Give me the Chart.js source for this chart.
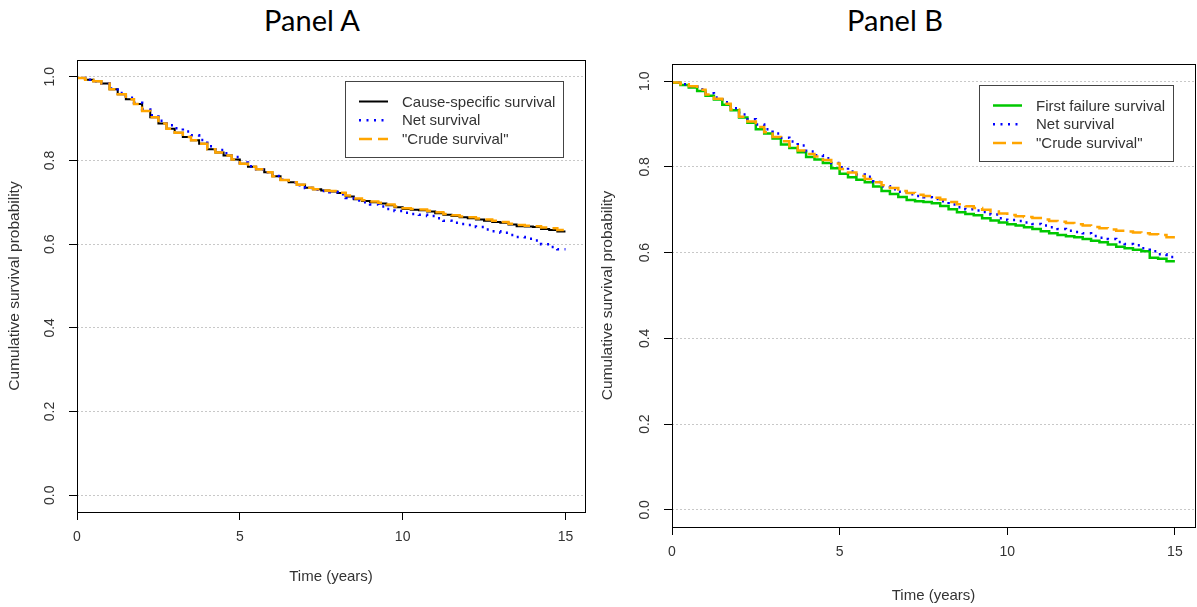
<!DOCTYPE html>
<html>
<head>
<meta charset="utf-8">
<script src="https://cdn.jsdelivr.net/npm/chart.js@4.4.0/dist/chart.umd.min.js"></script>
<style>
  body { margin: 0; background: #fff; width: 1197px; height: 607px; position: relative; overflow: hidden; }
  .panel-title { position: absolute; top: 0; width: 240px; text-align: center; font: 29px Lato, sans-serif; line-height: 40px; color: #000; }
  canvas { position: absolute; top: 0; }
</style>
</head>
<body>
<div class="panel-title" style="left:192px">Panel A</div>
<div class="panel-title" style="left:775px">Panel B</div>
<canvas id="panelA" width="598" height="607" style="left:0"></canvas>
<canvas id="panelB" width="599" height="607" style="left:598px"></canvas>
<script>
// time grid (years) shared by all curves
const timeYears = [0,0.25,0.5,0.75,1,1.25,1.5,1.75,2,2.25,2.5,2.75,3,3.25,3.5,3.75,4,4.25,4.5,4.75,
  5,5.25,5.5,5.75,6,6.25,6.5,6.75,7,7.25,7.5,7.75,8,8.25,8.5,8.75,9,9.25,9.5,9.75,
  10,10.25,10.5,10.75,11,11.25,11.5,11.75,12,12.25,12.5,12.75,13,13.25,13.5,13.75,14,14.25,14.5,14.75,15];

const xTicks = [0, 5, 10, 15];
const xTickLabels = ['0', '5', '10', '15'];
const yTicks = [0, 0.2, 0.4, 0.6, 0.8, 1.0];
const yTickLabels = ['0.0', '0.2', '0.4', '0.6', '0.8', '1.0'];

// Panel A
const labelsA = ['Cause-specific survival', 'Net survival', '"Crude survival"'];
const causeSpecificA = [1.000,0.997,0.993,0.989, 0.984,0.970,0.958,0.946, 0.935,0.918,0.903,0.888,
  0.876,0.866,0.856,0.848, 0.840,0.827,0.819,0.812, 0.802,0.792,0.785,0.779, 0.772,0.762,0.753,0.748,
  0.742,0.735,0.731,0.728, 0.726,0.722,0.714,0.707, 0.703,0.700,0.697,0.693, 0.688,0.684,0.682,0.681,
  0.678,0.674,0.670,0.667, 0.664,0.662,0.659,0.656, 0.653,0.651,0.647,0.643, 0.642,0.641,0.636,0.634, 0.630];
const netA = [1.000,0.997,0.993,0.989, 0.984,0.972,0.961,0.950, 0.938,0.922,0.908,0.895,
  0.884,0.877,0.869,0.860, 0.849,0.834,0.825,0.817, 0.808,0.795,0.786,0.779, 0.772,0.763,0.754,0.748,
  0.741,0.734,0.730,0.727, 0.724,0.719,0.710,0.704, 0.700,0.695,0.690,0.684, 0.679,0.675,0.672,0.670,
  0.667,0.662,0.656,0.651, 0.648,0.646,0.641,0.635, 0.631,0.627,0.622,0.617, 0.613,0.609,0.600,0.593, 0.588];
const crudeA = [1.000,0.997,0.993,0.989, 0.984,0.970,0.958,0.946, 0.935,0.918,0.903,0.888,
  0.876,0.866,0.856,0.848, 0.840,0.827,0.819,0.812, 0.802,0.792,0.785,0.779, 0.772,0.762,0.753,0.748,
  0.742,0.735,0.731,0.728, 0.727,0.723,0.716,0.709, 0.705,0.702,0.699,0.695, 0.690,0.686,0.684,0.683,
  0.680,0.676,0.672,0.669, 0.666,0.664,0.661,0.659, 0.656,0.653,0.649,0.646, 0.644,0.643,0.640,0.638, 0.634];

// Panel B
const labelsB = ['First failure survival', 'Net survival', '"Crude survival"'];
const firstFailureB = [1.000,0.996,0.991,0.985, 0.977,0.966,0.957,0.945, 0.932,0.915,0.903,0.888,
  0.878,0.866,0.852,0.844, 0.834,0.823,0.817,0.809, 0.797,0.784,0.776,0.770, 0.764,0.754,0.744,0.737,
  0.730,0.723,0.720,0.718, 0.715,0.709,0.701,0.694, 0.690,0.687,0.680,0.675, 0.670,0.666,0.663,0.659,
  0.655,0.650,0.645,0.641, 0.638,0.636,0.632,0.628, 0.624,0.619,0.614,0.610, 0.607,0.603,0.588,0.586, 0.580];
const netB = [1.000,0.997,0.993,0.988, 0.981,0.972,0.962,0.951, 0.937,0.922,0.911,0.899,
  0.888,0.878,0.868,0.859, 0.850,0.836,0.827,0.820, 0.809,0.799,0.789,0.782, 0.777,0.765,0.755,0.748,
  0.742,0.736,0.732,0.729, 0.725,0.720,0.712,0.706, 0.701,0.698,0.695,0.689, 0.680,0.676,0.674,0.670,
  0.667,0.663,0.659,0.655, 0.651,0.648,0.645,0.639, 0.635,0.632,0.625,0.620, 0.617,0.610,0.603,0.596, 0.590];
const crudeB = [1.000,0.997,0.993,0.988, 0.980,0.969,0.959,0.947, 0.934,0.917,0.906,0.893,
  0.881,0.870,0.860,0.848, 0.838,0.830,0.824,0.816, 0.808,0.795,0.787,0.779, 0.772,0.764,0.757,0.751,
  0.744,0.739,0.735,0.732, 0.728,0.724,0.718,0.713, 0.708,0.704,0.700,0.696, 0.691,0.688,0.685,0.683,
  0.681,0.677,0.674,0.672, 0.669,0.666,0.663,0.660, 0.657,0.654,0.651,0.649, 0.647,0.645,0.643,0.641, 0.636];

const FONT = 'Liberation Sans, Arial, sans-serif';

function points(values) {
  return timeYears.map((t, i) => ({ x: t, y: values[i] }));
}

function curve(label, values, color, width, dash, order) {
  return {
    label: label,
    data: points(values),
    borderColor: color,
    borderWidth: width,
    borderDash: dash,
    stepped: 'after',
    pointRadius: 0,
    fill: false,
    order: order
  };
}

// box, rotated y labels and an R-style legend in the top right corner
const rStyle = {
  id: 'rStyle',
  afterDraw(chart) {
    const ctx = chart.ctx;
    const a = chart.chartArea;
    ctx.save();
    ctx.strokeStyle = '#000';
    ctx.lineWidth = 1;
    ctx.strokeRect(Math.round(a.left) + 0.5, Math.round(a.top) + 0.5,
      Math.round(a.right - a.left), Math.round(a.bottom - a.top));

    // y tick labels, rotated like R's las=0
    const ys = chart.scales.y;
    ctx.fillStyle = '#333';
    ctx.font = '14px ' + FONT;
    ctx.textAlign = 'center';
    ctx.textBaseline = 'middle';
    ys.ticks.forEach(tick => {
      const idx = yTicks.indexOf(tick.value);
      const py = ys.getPixelForValue(tick.value);
      ctx.save();
      ctx.translate(a.left - 27, py);
      ctx.rotate(-Math.PI / 2);
      ctx.fillText(idx >= 0 ? yTickLabels[idx] : tick.label, 0, 0);
      ctx.restore();
    });

    // legend
    const sets = chart.data.datasets.slice().sort((p, q) => q.order - p.order);
    ctx.font = '15px ' + FONT;
    ctx.textAlign = 'left';
    const textW = Math.max(...sets.map(d => ctx.measureText(d.label).width));
    const boxW = 14 + 29 + 14 + textW + 8;
    const boxH = 76;
    const bx = Math.round(a.right - 22 - boxW);
    const by = Math.round(a.top + 21);
    ctx.fillStyle = '#fff';
    ctx.fillRect(bx, by, boxW, boxH);
    ctx.strokeStyle = '#444';
    ctx.lineWidth = 1;
    ctx.strokeRect(bx + 0.5, by + 0.5, Math.round(boxW), boxH);
    sets.forEach((d, i) => {
      const ry = by + 20.5 + i * 18.8;
      ctx.beginPath();
      ctx.strokeStyle = d.borderColor;
      ctx.lineWidth = d.borderWidth;
      ctx.setLineDash(d.borderDash);
      ctx.moveTo(bx + 14, ry);
      ctx.lineTo(bx + 43, ry);
      ctx.stroke();
      ctx.setLineDash([]);
      ctx.fillStyle = '#333';
      ctx.textBaseline = 'middle';
      ctx.fillText(d.label, bx + 57, ry + 1);
    });
    ctx.restore();
  }
};

function makePanel(canvasId, datasets, geo) {
  return new Chart(document.getElementById(canvasId), {
    type: 'line',
    data: { datasets: datasets },
    options: {
      responsive: false,
      animation: false,
      layout: { padding: { top: geo.top, right: geo.right, left: 0, bottom: 0 } },
      plugins: { legend: { display: false }, tooltip: { enabled: false } },
      scales: {
        x: {
          type: 'linear',
          min: 0,
          max: 15.6,
          afterBuildTicks: s => { s.ticks = xTicks.map(v => ({ value: v })); },
          afterFit: s => { s.height = geo.xHeight; },
          grid: { drawOnChartArea: false, drawTicks: true, tickLength: 8, tickColor: '#000' },
          border: { display: false },
          ticks: {
            autoSkip: false, maxRotation: 0, padding: 9, color: '#333',
            font: { family: FONT, size: 14 },
            callback: (v) => xTickLabels[xTicks.indexOf(v)]
          },
          title: {
            display: true, text: 'Time (years)', color: '#333',
            font: { family: FONT, size: 15 },
            padding: { top: 0, bottom: geo.xTitlePad }
          }
        },
        y: {
          type: 'linear',
          min: -0.04,
          max: 1.04,
          afterBuildTicks: s => { s.ticks = yTicks.map(v => ({ value: v })); },
          afterFit: s => { s.width = geo.yWidth; },
          grid: { color: '#c8c8c8', lineWidth: 1, drawTicks: true, tickLength: 8, tickColor: '#000' },
          border: { display: false, dash: [2, 2] },
          ticks: { display: false },
          title: {
            display: true, text: 'Cumulative survival probability', color: '#333',
            font: { family: FONT, size: 15.5 },
            padding: { top: geo.yTitlePad, bottom: 0 }
          }
        }
      }
    },
    plugins: [rStyle]
  });
}

makePanel('panelA', [
  curve(labelsA[0], causeSpecificA, '#000000', 2, [], 2),
  curve(labelsA[1], netA, '#0000ff', 2.5, [2, 5.5], 1),
  curve(labelsA[2], crudeA, '#ffa500', 2.5, [13, 6], 0)
], { top: 60, right: 13, xHeight: 95, yWidth: 77, xTitlePad: 21, yTitlePad: 5 });

makePanel('panelB', [
  curve(labelsB[0], firstFailureB, '#00c800', 2.5, [], 2),
  curve(labelsB[1], netB, '#0000ff', 2.5, [2, 5.5], 1),
  curve(labelsB[2], crudeB, '#ffa500', 2.5, [13, 6], 0)
], { top: 64, right: 2, xHeight: 80, yWidth: 74, xTitlePad: 2, yTitlePad: 0 });
</script>
</body>
</html>
